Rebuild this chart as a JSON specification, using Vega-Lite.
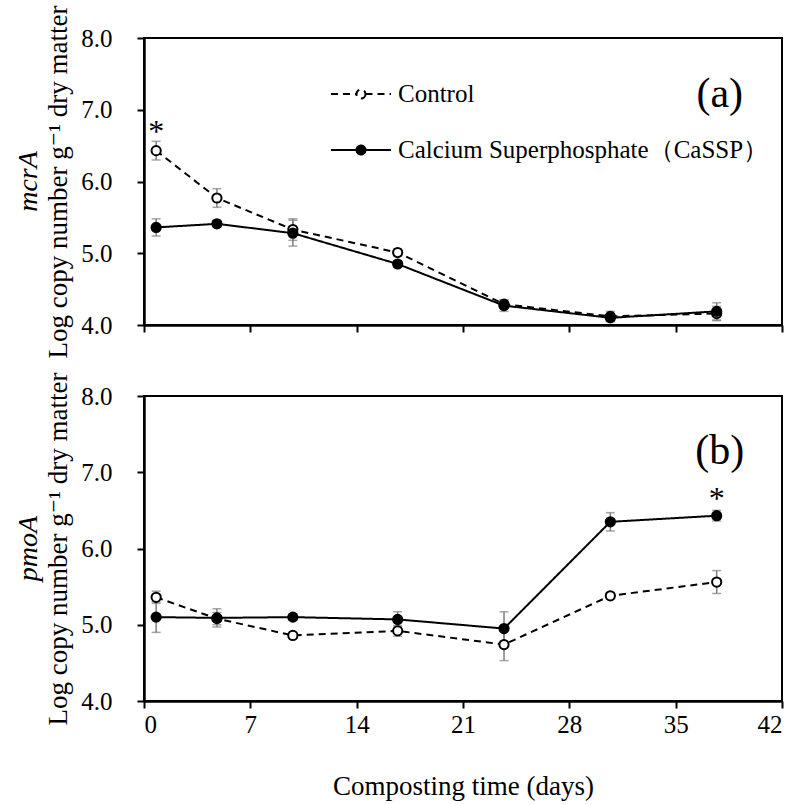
{
  "$schema": "https://vega.github.io/schema/vega-lite/v6.json",
  "background": "white",
  "padding": {"left": 13, "top": 3, "right": 10, "bottom": 5},
  "bounds": "flush",
  "spacing": 71,
  "datasets": {
    "mcrA": [
      {"series": "Control", "day": 0.8, "value": 6.43, "err": 0.13, "sig": "*"},
      {"series": "Control", "day": 4.8, "value": 5.77, "err": 0.13, "sig": ""},
      {"series": "Control", "day": 9.8, "value": 5.33, "err": 0.15, "sig": ""},
      {"series": "Control", "day": 16.7, "value": 5.01, "err": 0.05, "sig": ""},
      {"series": "Control", "day": 23.7, "value": 4.29, "err": 0.06, "sig": ""},
      {"series": "Control", "day": 30.7, "value": 4.12, "err": 0.07, "sig": ""},
      {"series": "Control", "day": 37.7, "value": 4.16, "err": 0.1, "sig": ""},
      {"series": "Calcium Superphosphate（CaSSP）", "day": 0.8, "value": 5.36, "err": 0.12, "sig": ""},
      {"series": "Calcium Superphosphate（CaSSP）", "day": 4.8, "value": 5.41, "err": 0.05, "sig": ""},
      {"series": "Calcium Superphosphate（CaSSP）", "day": 9.8, "value": 5.28, "err": 0.18, "sig": ""},
      {"series": "Calcium Superphosphate（CaSSP）", "day": 16.7, "value": 4.85, "err": 0.04, "sig": ""},
      {"series": "Calcium Superphosphate（CaSSP）", "day": 23.7, "value": 4.27, "err": 0.08, "sig": ""},
      {"series": "Calcium Superphosphate（CaSSP）", "day": 30.7, "value": 4.1, "err": 0.05, "sig": ""},
      {"series": "Calcium Superphosphate（CaSSP）", "day": 37.7, "value": 4.19, "err": 0.12, "sig": ""}
    ],
    "pmoA": [
      {"series": "Control", "day": 0.8, "value": 5.36, "err": 0.08, "sig": ""},
      {"series": "Control", "day": 4.8, "value": 5.08, "err": 0.08, "sig": ""},
      {"series": "Control", "day": 9.8, "value": 4.86, "err": 0.04, "sig": ""},
      {"series": "Control", "day": 16.7, "value": 4.92, "err": 0.07, "sig": ""},
      {"series": "Control", "day": 23.7, "value": 4.74, "err": 0.21, "sig": ""},
      {"series": "Control", "day": 30.7, "value": 5.38, "err": 0.04, "sig": ""},
      {"series": "Control", "day": 37.7, "value": 5.56, "err": 0.15, "sig": ""},
      {"series": "Calcium Superphosphate（CaSSP）", "day": 0.8, "value": 5.1, "err": 0.2, "sig": ""},
      {"series": "Calcium Superphosphate（CaSSP）", "day": 4.8, "value": 5.09, "err": 0.12, "sig": ""},
      {"series": "Calcium Superphosphate（CaSSP）", "day": 9.8, "value": 5.1, "err": 0.04, "sig": ""},
      {"series": "Calcium Superphosphate（CaSSP）", "day": 16.7, "value": 5.07, "err": 0.1, "sig": ""},
      {"series": "Calcium Superphosphate（CaSSP）", "day": 23.7, "value": 4.95, "err": 0.22, "sig": ""},
      {"series": "Calcium Superphosphate（CaSSP）", "day": 30.7, "value": 6.35, "err": 0.12, "sig": ""},
      {"series": "Calcium Superphosphate（CaSSP）", "day": 37.7, "value": 6.43, "err": 0.07, "sig": "*"}
    ]
  },
  "vconcat": [
    {
      "width": 638,
      "height": 287,
      "title": {"text": "mcrA", "orient": "left", "anchor": "middle", "fontStyle": "italic", "font": "Liberation Serif, DejaVu Serif, serif", "fontSize": 28, "fontWeight": "normal", "color": "black", "offset": 2},
      "layer": [
        {
          "data": {"name": "mcrA"},
          "mark": {"type": "errorbar", "ticks": true, "size": 9, "thickness": 1.5, "color": "#7f7f7f"},
          "encoding": {
            "x": {"field": "day", "type": "quantitative", "scale": {"domain": [0, 42], "nice": false}, "axis": {"values": [0, 7, 14, 21, 28, 35, 42], "labels": false, "title": null}},
            "y": {"field": "value", "type": "quantitative", "scale": {"domain": [4, 8], "nice": false, "zero": false}, "axis": {"values": [4, 5, 6, 7, 8], "format": ".1f", "title": "Log copy number g⁻¹ dry matter"}},
            "yError": {"field": "err"}
          }
        },
        {
          "data": {"name": "mcrA"},
          "mark": {"type": "line", "color": "black", "strokeWidth": 2},
          "encoding": {
            "x": {"field": "day", "type": "quantitative"},
            "y": {"field": "value", "type": "quantitative"},
            "strokeDash": {"field": "series", "type": "nominal", "scale": {"domain": ["Control", "Calcium Superphosphate（CaSSP）"], "range": [[7, 5], [1, 0]]},
              "legend": {"title": null, "orient": "none", "legendX": 186, "legendY": 25, "symbolType": "M-1,0L-0.15,0M0.15,0L1,0M0.15,0A0.15,0.15,0,1,1,-0.15,0A0.15,0.15,0,1,1,0.15,0Z", "symbolSize": 3600, "symbolStrokeColor": "black", "symbolStrokeWidth": 2, "labelFont": "Liberation Serif, DejaVu Serif, serif", "labelFontSize": 25, "labelColor": "black", "rowPadding": 12, "labelOffset": 6, "labelLimit": 600}}
          }
        },
        {
          "data": {"name": "mcrA"},
          "mark": {"type": "point", "filled": true, "size": 85, "stroke": "black", "strokeWidth": 2, "opacity": 1},
          "encoding": {
            "x": {"field": "day", "type": "quantitative"},
            "y": {"field": "value", "type": "quantitative"},
            "fill": {"field": "series", "type": "nominal", "scale": {"domain": ["Control", "Calcium Superphosphate（CaSSP）"], "range": ["white", "black"]},
              "legend": {"title": null, "orient": "none", "legendX": 186, "legendY": 25, "symbolType": "M-1,0L-0.15,0M0.15,0L1,0M0.15,0A0.15,0.15,0,1,1,-0.15,0A0.15,0.15,0,1,1,0.15,0Z", "symbolSize": 3600, "symbolStrokeColor": "black", "symbolStrokeWidth": 2, "labelFont": "Liberation Serif, DejaVu Serif, serif", "labelFontSize": 25, "labelColor": "black", "rowPadding": 12, "labelOffset": 6, "labelLimit": 600}}
          }
        },
        {
          "data": {"name": "mcrA"},
          "transform": [{"filter": "datum.sig == '*'"}],
          "mark": {"type": "text", "font": "Liberation Serif, DejaVu Serif, serif", "fontSize": 32, "dy": -19, "baseline": "middle", "align": "center", "color": "black"},
          "encoding": {
            "x": {"field": "day", "type": "quantitative"},
            "y": {"field": "value", "type": "quantitative"},
            "text": {"field": "sig"}
          }
        },
        {
          "data": {"values": [{"label": "(a)"}]},
          "mark": {"type": "text", "font": "Liberation Serif, DejaVu Serif, serif", "fontSize": 42, "baseline": "middle", "align": "center", "color": "black"},
          "encoding": {"text": {"field": "label", "type": "nominal"}, "x": {"datum": 37.9, "type": "quantitative"}, "y": {"datum": 7.22, "type": "quantitative"}}
        }
      ]
    },
    {
      "width": 638,
      "height": 305,
      "title": {"text": "pmoA", "orient": "left", "anchor": "middle", "fontStyle": "italic", "font": "Liberation Serif, DejaVu Serif, serif", "fontSize": 28, "fontWeight": "normal", "color": "black", "offset": 2},
      "layer": [
        {
          "data": {"name": "pmoA"},
          "mark": {"type": "errorbar", "ticks": true, "size": 9, "thickness": 1.5, "color": "#7f7f7f"},
          "encoding": {
            "x": {"field": "day", "type": "quantitative", "scale": {"domain": [0, 42], "nice": false}, "axis": {"values": [0, 7, 14, 21, 28, 35, 42], "title": "Composting time (days)"}},
            "y": {"field": "value", "type": "quantitative", "scale": {"domain": [4, 8], "nice": false, "zero": false}, "axis": {"values": [4, 5, 6, 7, 8], "format": ".1f", "title": "Log copy number g⁻¹ dry matter"}},
            "yError": {"field": "err"}
          }
        },
        {
          "data": {"name": "pmoA"},
          "mark": {"type": "line", "color": "black", "strokeWidth": 2},
          "encoding": {
            "x": {"field": "day", "type": "quantitative"},
            "y": {"field": "value", "type": "quantitative"},
            "strokeDash": {"field": "series", "type": "nominal", "scale": {"domain": ["Control", "Calcium Superphosphate（CaSSP）"], "range": [[7, 5], [1, 0]]}, "legend": null}
          }
        },
        {
          "data": {"name": "pmoA"},
          "mark": {"type": "point", "filled": true, "size": 85, "stroke": "black", "strokeWidth": 2, "opacity": 1},
          "encoding": {
            "x": {"field": "day", "type": "quantitative"},
            "y": {"field": "value", "type": "quantitative"},
            "fill": {"field": "series", "type": "nominal", "scale": {"domain": ["Control", "Calcium Superphosphate（CaSSP）"], "range": ["white", "black"]}, "legend": null}
          }
        },
        {
          "data": {"name": "pmoA"},
          "transform": [{"filter": "datum.sig == '*'"}],
          "mark": {"type": "text", "font": "Liberation Serif, DejaVu Serif, serif", "fontSize": 32, "dy": -17, "baseline": "middle", "align": "center", "color": "black"},
          "encoding": {
            "x": {"field": "day", "type": "quantitative"},
            "y": {"field": "value", "type": "quantitative"},
            "text": {"field": "sig"}
          }
        },
        {
          "data": {"values": [{"label": "(b)"}]},
          "mark": {"type": "text", "font": "Liberation Serif, DejaVu Serif, serif", "fontSize": 42, "baseline": "middle", "align": "center", "color": "black"},
          "encoding": {"text": {"field": "label", "type": "nominal"}, "x": {"datum": 37.9, "type": "quantitative"}, "y": {"datum": 7.28, "type": "quantitative"}}
        }
      ]
    }
  ],
  "resolve": {"legend": {"fill": "independent", "strokeDash": "independent"}, "scale": {"fill": "independent", "strokeDash": "independent"}},
  "config": {
    "font": "Liberation Serif, DejaVu Serif, serif",
    "view": {"stroke": "black", "strokeWidth": 2},
    "axis": {
      "grid": false,
      "domainColor": "black",
      "domainWidth": 2.5,
      "tickColor": "black",
      "tickWidth": 2,
      "tickSize": 7,
      "labelFont": "Liberation Serif, DejaVu Serif, serif",
      "labelFontSize": 25,
      "labelColor": "black",
      "titleFont": "Liberation Serif, DejaVu Serif, serif",
      "titleFontSize": 27,
      "titleFontWeight": "normal",
      "titleColor": "black"
    },
    "axisY": {"labelPadding": 25, "titlePadding": 8},
    "axisX": {"labelPadding": 4, "titlePadding": 36}
  }
}
